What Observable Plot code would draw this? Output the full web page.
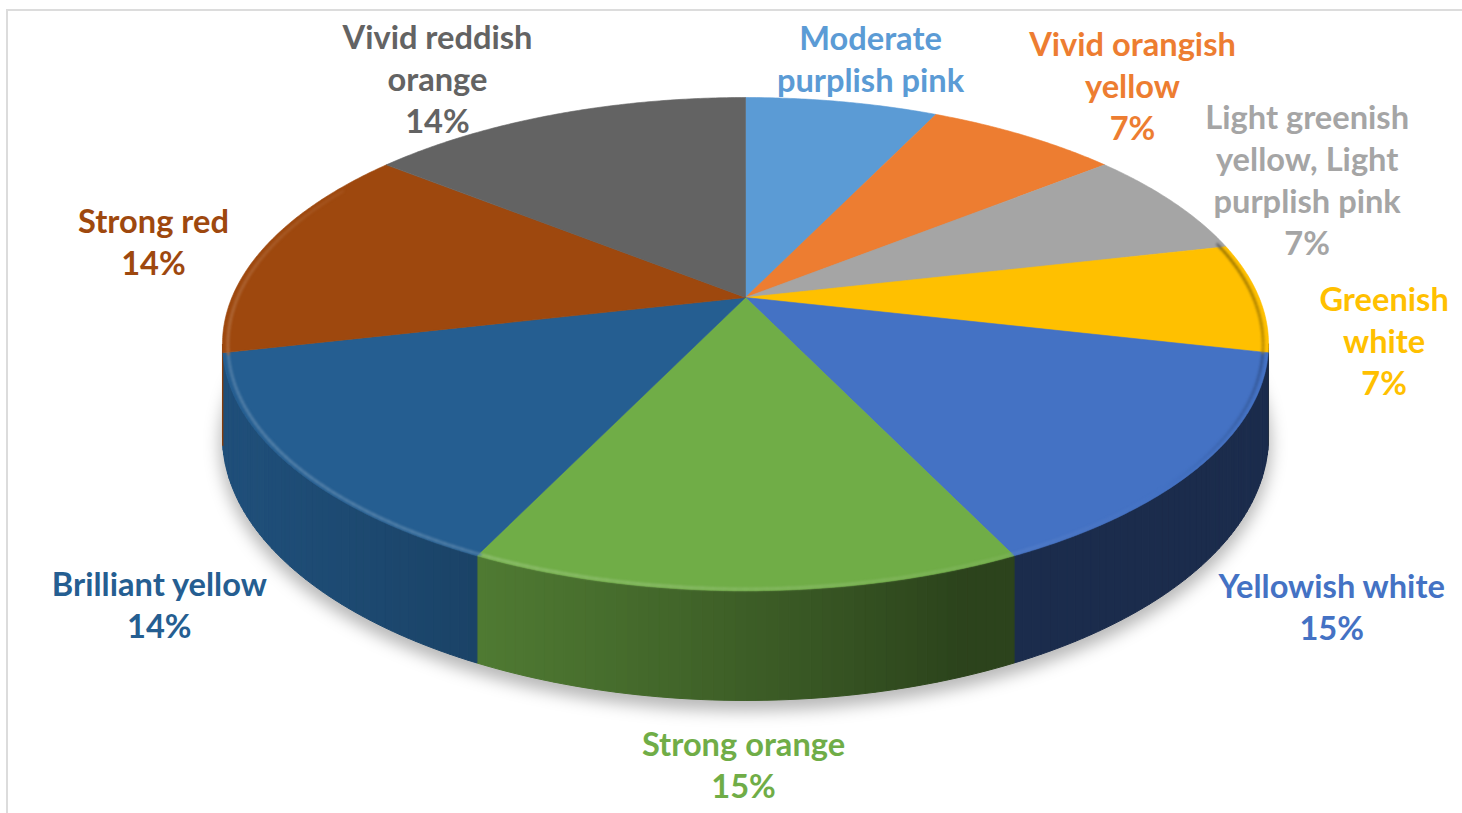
<!DOCTYPE html>
<html><head><meta charset="utf-8">
<script src="https://cdn.jsdelivr.net/npm/d3@7"></script>
<script src="https://cdn.jsdelivr.net/npm/@observablehq/plot@0.6"></script>
<style>
html,body{margin:0;padding:0;background:#fff;}
#wrap{position:relative;width:1462px;height:813px;overflow:hidden;}
#chart{position:absolute;left:0;top:0;}
#frame{position:absolute;left:6px;top:9px;right:-10px;bottom:-10px;border:2px solid #dcdcdc;pointer-events:none;}
</style></head><body>
<div id="wrap"><div id="chart"></div><div id="frame"></div></div>
<script>
// ---- data ----
const categories = ["Moderate purplish pink","Vivid orangish yellow","Light greenish yellow, Light purplish pink","Greenish white","Yellowish white","Strong orange","Brilliant yellow","Strong red","Vivid reddish orange"];
// relative slice sizes
const shares = [1, 1, 1, 1, 2, 2, 2, 2, 2];
const labelLines = [["Moderate","purplish pink"],["Vivid orangish","yellow"],["Light greenish","yellow, Light","purplish pink"],["Greenish","white"],["Yellowish white"],["Strong orange"],["Brilliant yellow"],["Strong red"],["Vivid reddish","orange"]];
const showPercent = [false, true, true, true, true, true, true, true, true];
const colors = ["#5B9BD5","#ED7D31","#A5A5A5","#FFC000","#4472C4","#70AD47","#255E91","#9E480E","#636363"];

// ---- layout / style ----
const WIDTH = 1462, HEIGHT = 813;
const CX = 745, CY = 297, RX = 513.6, RY = 237.8, PERSP = 0.189, DEPTH = 89;
const labelOffset = [[28.5,-44],[108,-51],[134,-24],[125,42.5],[131,39.5],[-2,63.5],[-131,37],[-111.5,-6],[-117.6,-37]];
const FONT_FAMILY = "Lato";

function project(theta, r = 1, drop = 0) {
  const t = theta * Math.PI / 180;
  const u = r * Math.sin(t), v = -r * Math.cos(t);
  const w = 1 - PERSP * v;
  return [CX + RX * u / w, CY + (RY * v + drop) / w];
}
function shade(c, f) { return d3.interpolateRgb("#000", c)(f); }
function wallLight(theta) { return 0.39 + 0.445 * Math.max(0, Math.cos((theta - 250) * Math.PI / 180)); }

const total = d3.sum(shares);
// whole-number percentages that add up to 100 (largest remainder), as the chart shows them
const raw = shares.map(v => v / total * 100);
const pct = raw.map(Math.floor);
d3.range(shares.length).sort((a, b) => (raw[b] - pct[b]) - (raw[a] - pct[a]) || a - b)
  .slice(0, 100 - d3.sum(pct)).forEach(i => pct[i]++);

let acc = 0;
const slices = shares.map((v, i) => {
  const a0 = acc / total * 360; acc += v; const a1 = acc / total * 360;
  return {i, a0, a1, mid: (a0 + a1) / 2};
});
const vis0 = 90 + Math.asin(PERSP) * 180 / Math.PI, vis1 = 360 - vis0;

// top faces
const topFace = [];
for (const s of slices) {
  const n = Math.max(2, Math.ceil((s.a1 - s.a0) * 2));
  topFace.push({z: s.i, x: CX, y: CY, c: colors[s.i]});
  for (let k = 0; k <= n; k++) {
    const [x, y] = project(s.a0 + (s.a1 - s.a0) * k / n);
    topFace.push({z: s.i, x, y, c: colors[s.i]});
  }
  topFace.push({z: s.i, x: CX, y: CY, c: colors[s.i]});
}
// walls
const wall = [];
let seg = 0;
for (const s of slices) {
  const b0 = Math.max(s.a0, vis0), b1 = Math.min(s.a1, vis1);
  if (b1 <= b0) continue;
  const n = Math.ceil(b1 - b0);
  for (let k = 0; k < n; k++) {
    const t0 = b0 + (b1 - b0) * k / n, t1 = b0 + (b1 - b0) * (k + 1) / n;
    const c = shade(colors[s.i], wallLight((t0 + t1) / 2));
    const pts = [project(t0), project(t1), project(t1, 1, DEPTH), project(t0, 1, DEPTH), project(t0)];
    for (const [x, y] of pts) wall.push({z: seg, x, y, c});
    seg++;
  }
}
// rim bevel
const rim = [];
seg = 0;
for (const s of slices) {
  const b0 = Math.max(s.a0, 76), b1 = Math.min(s.a1, 300);
  if (b1 <= b0) continue;
  const n = Math.ceil(b1 - b0);
  for (let k = 0; k < n; k++) {
    const t0 = b0 + (b1 - b0) * k / n, t1 = b0 + (b1 - b0) * (k + 1) / n;
    const l = Math.cos(((t0 + t1) / 2 - 225) * Math.PI / 180);
    const c = l >= 0 ? d3.interpolateRgb(colors[s.i], "#fff")(0.22 * l) : d3.interpolateRgb(colors[s.i], "#000")(-0.45 * l);
    for (const t of [t0, t1]) { const [x, y] = project(t, 0.99, 1.5); rim.push({z: seg, x, y, c}); }
    seg++;
  }
}
// shadow
const shadow = d3.range(0, 361, 2).map(t => { const [x, y] = project(t, 1.005, DEPTH + 7); return {x, y}; });

// labels
const cv = document.createElement("canvas").getContext("2d");
cv.font = `bold 32px ${FONT_FAMILY}`;
const FONT = 32 * 227 / cv.measureText("Yellowish white").width;
const labels = slices.map(s => {
  const front = s.mid > vis0 && s.mid < vis1;
  const [px, py] = project(s.mid, 1, front ? DEPTH : 0);
  const lines = showPercent[s.i] ? [...labelLines[s.i], `${pct[s.i]}%`] : labelLines[s.i];
  return {x: px + labelOffset[s.i][0], y: py + labelOffset[s.i][1], text: lines.join("\n"), c: colors[s.i], name: categories[s.i]};
});

const plot = Plot.plot({
  width: WIDTH, height: HEIGHT, margin: 0,
  x: {domain: [0, WIDTH], range: [0, WIDTH], axis: null},
  y: {domain: [0, HEIGHT], range: [0, HEIGHT], axis: null},
  color: {type: "identity"},
  style: {background: "transparent", overflow: "visible"},
  marks: [
    Plot.line(shadow, {x: "x", y: "y", fill: "#000", fillOpacity: 0.28, stroke: "none", curve: "linear"}),
    Plot.line(wall, {x: "x", y: "y", z: "z", fill: "c", stroke: "c", strokeWidth: 1, curve: "linear"}),
    Plot.line(topFace, {x: "x", y: "y", z: "z", fill: "c", stroke: "c", strokeWidth: 0.6, curve: "linear"}),
    Plot.line(rim, {x: "x", y: "y", z: "z", stroke: "c", strokeWidth: 3, strokeOpacity: 0.85, curve: "linear"}),
    Plot.text(labels, {x: "x", y: "y", text: "text", fill: "c", fontSize: FONT, fontWeight: "bold", fontFamily: FONT_FAMILY, lineHeight: 42 / FONT, lineAnchor: "middle", textAnchor: "middle", title: "name"})
  ]
});
const g = plot.querySelectorAll('g[aria-label="line"]');
if (g[0]) g[0].style.filter = "blur(8px)";
if (g[3]) g[3].style.filter = "blur(1px)";
document.getElementById("chart").appendChild(plot);
</script>
</body></html>
